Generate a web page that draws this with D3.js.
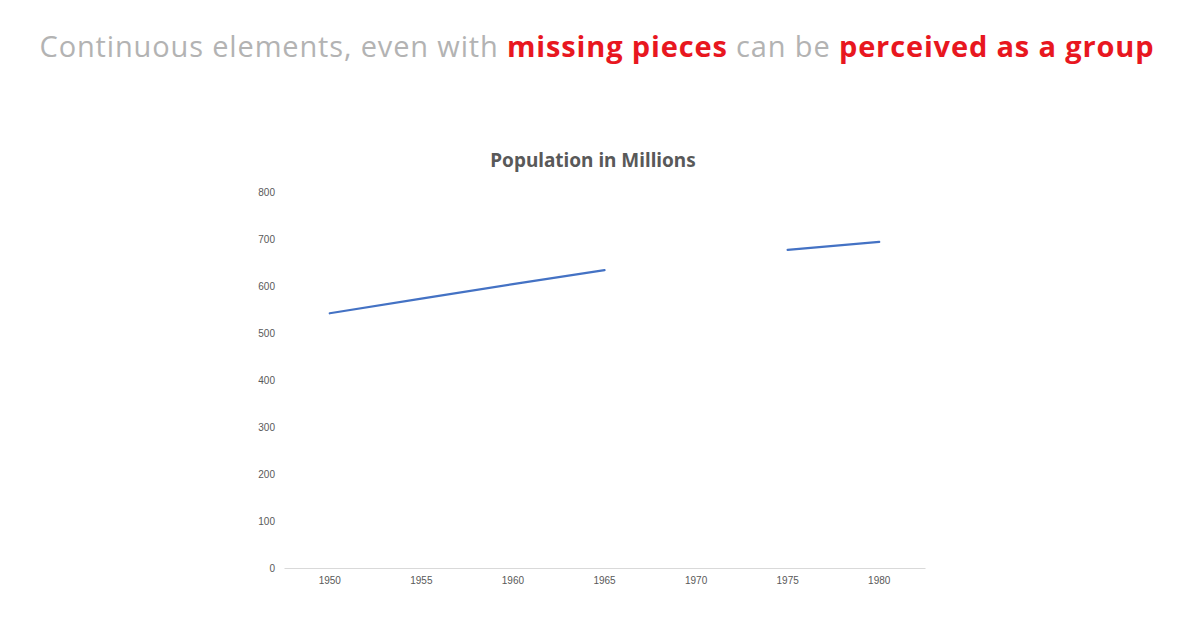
<!DOCTYPE html>
<html>
<head>
<meta charset="utf-8">
<script src="https://cdn.jsdelivr.net/npm/d3@7"></script>
<style>
  body { margin: 0; background: #fff; }
  svg { display: block; }
</style>
</head>
<body>
<div id="chart"></div>
<script>
// data
var years = ["1950", "1955", "1960", "1965", "1970", "1975", "1980"];
var population = [542, 573, 604, 634, null, 677, 694];
var yTicks = [0, 100, 200, 300, 400, 500, 600, 700, 800];

var W = 1200, H = 623;

var svg = d3.select("#chart").append("svg")
  .attr("width", W)
  .attr("height", H);

// headline, gray with red highlights
var head = svg.append("text")
  .attr("x", 597)
  .attr("y", 57)
  .attr("text-anchor", "middle")
  .style("font-family", "'Open Sans', sans-serif")
  .style("font-size", "29px")
  .style("letter-spacing", "0.85px");

var parts = [
  ["Continuous elements, even with ", false],
  ["missing pieces", true],
  [" can be ", false],
  ["perceived as a group", true]
];
parts.forEach(function(p) {
  head.append("tspan")
    .text(p[0])
    .attr("fill", p[1] ? "#e8171f" : "#b3b3b3")
    .style("font-weight", p[1] ? "700" : "400");
});

// chart title
svg.append("text")
  .attr("x", 593)
  .attr("y", 167)
  .attr("text-anchor", "middle")
  .attr("fill", "#595959")
  .style("font-family", "'Noto Sans', sans-serif")
  .style("font-weight", "700")
  .style("font-size", "19px")
  .text("Population in Millions");

var margin = { top: 192, left: 284, right: 275, bottom: 55 };
var width = W - margin.left - margin.right;
var height = H - margin.top - margin.bottom;

var g = svg.append("g")
  .attr("transform", "translate(" + margin.left + "," + margin.top + ")");

var xScale = d3.scaleBand()
  .domain(years)
  .range([0, width]);

var yScale = d3.scaleLinear()
  .domain([0, 800])
  .range([height, 0]);

// x axis: baseline only, labels under category centres
var xAxis = g.append("g")
  .attr("transform", "translate(0," + height + ")")
  .call(d3.axisBottom(xScale).tickSize(0).tickPadding(9));
xAxis.select(".domain").attr("stroke", "#d9d9d9").attr("stroke-width", 1);
xAxis.selectAll("text")
  .attr("fill", "#595959")
  .style("font-family", "'Liberation Sans', sans-serif")
  .style("font-size", "10px");

// y axis: labels only
var yAxis = g.append("g")
  .call(d3.axisLeft(yScale).tickValues(yTicks).tickSize(0).tickPadding(9));
yAxis.select(".domain").remove();
yAxis.selectAll("text")
  .attr("fill", "#595959")
  .style("font-family", "'Liberation Sans', sans-serif")
  .style("font-size", "10px");

var data = years.map(function(y, i) { return { year: y, value: population[i] }; });

var line = d3.line()
  .defined(function(d) { return d.value != null; })
  .x(function(d) { return xScale(d.year) + xScale.bandwidth() / 2; })
  .y(function(d) { return yScale(d.value); });

g.append("path")
  .datum(data)
  .attr("fill", "none")
  .attr("stroke", "#4472c4")
  .attr("stroke-width", 2.25)
  .attr("stroke-linecap", "round")
  .attr("d", line);
</script>
</body>
</html>
